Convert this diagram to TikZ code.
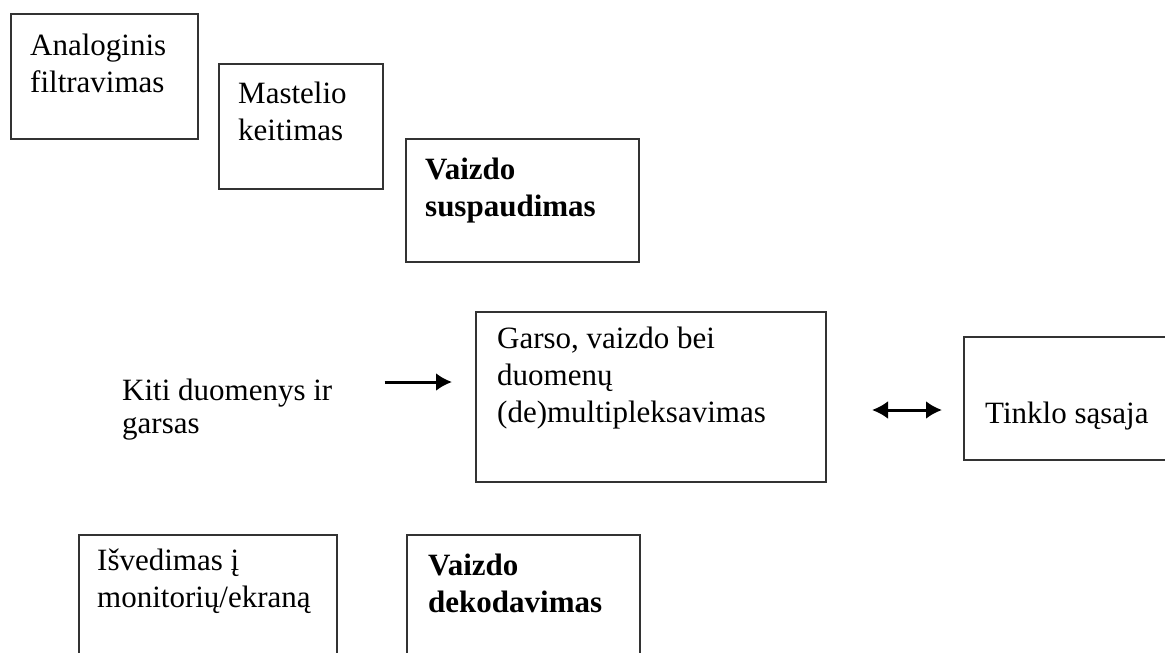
\documentclass[tikz,border=0pt]{standalone}
\usepackage{fontspec}
\setmainfont{Liberation Serif}
\usetikzlibrary{arrows.meta}
\tikzset{
  box/.style={draw=black!80, line width=2pt, rectangle, inner sep=0pt, anchor=north west},
  txt/.style={inner sep=0pt, anchor=base west, align=left, font=\fontsize{31pt}{37pt}\selectfont},
  btxt/.style={txt, font=\fontsize{31pt}{37pt}\selectfont\bfseries},
  arr/.style={line width=3pt, -{Latex[length=16pt,width=18pt]}},
  darr/.style={line width=3pt, {Latex[length=16pt,width=18pt]}-{Latex[length=16pt,width=18pt]}}
}
\begin{document}
\begin{tikzpicture}[x=1pt,y=-1pt]
\useasboundingbox (0,0) rectangle (1165,653);
\clip (0,0) rectangle (1165,653);
% boxes
\node[box, minimum width=187, minimum height=125] (b1) at (10,13) {};
\node[box, minimum width=164, minimum height=125] (b2) at (218,63) {};
\node[box, minimum width=233, minimum height=123] (b3) at (405,138) {};
\node[box, minimum width=350, minimum height=170] (b4) at (475,311) {};
\node[box, minimum width=220, minimum height=123] (b5) at (963,336) {};
\node[box, minimum width=258, minimum height=140] (b6) at (78,534) {};
\node[box, minimum width=233, minimum height=140] (b7) at (406,534) {};
% texts (anchor at baseline of last line)
\node[txt] (t1) at (30,92) {Analoginis\\filtravimas};
\node[txt] (t2) at (238,140) {Mastelio\\keitimas};
\node[btxt] (t3) at (425,216) {Vaizdo\\suspaudimas};
\node[txt] (t4) at (497,422) {Garso, vaizdo bei\\duomenų\\(de)multipleksavimas};
\node[txt] (t5) at (985,423) {Tinklo sąsaja};
\node[txt, font=\fontsize{31pt}{33pt}\selectfont] (t6) at (122,433) {Kiti duomenys ir\\garsas};
\node[txt] (t7) at (97,607) {Išvedimas į\\monitorių/ekraną};
\node[btxt] (t8) at (428,612) {Vaizdo\\dekodavimas};
% connectors
\coordinate (ya) at (0,382);
\coordinate (yb) at (0,410);
\draw[arr, shorten <=52pt, shorten >=23pt] (t6.east |- ya) -- (b4.west |- ya);
\draw[darr, shorten <=45pt, shorten >=21pt] (b4.east |- yb) -- (b5.west |- yb);
\end{tikzpicture}
\end{document}
